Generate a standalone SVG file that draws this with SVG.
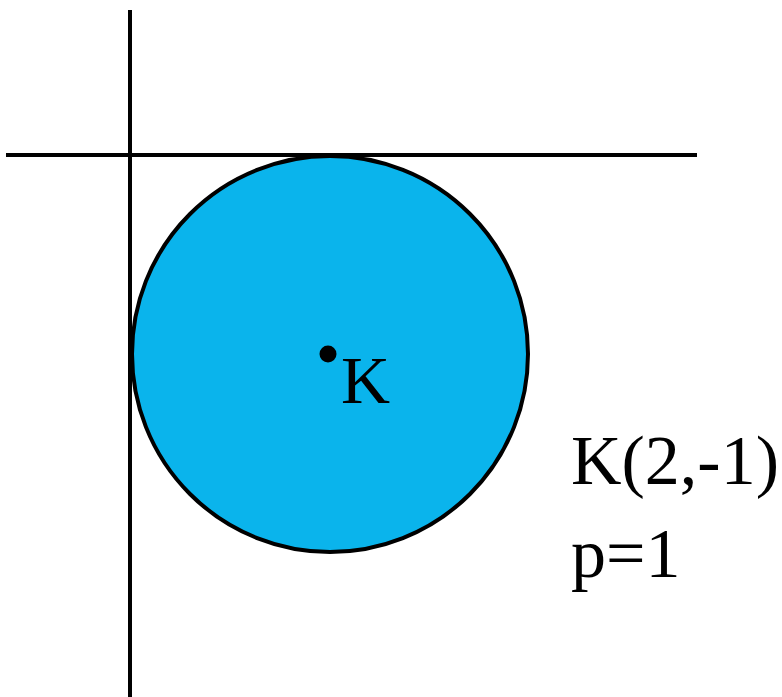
<svg xmlns="http://www.w3.org/2000/svg" width="782" height="697" viewBox="0 0 782 697">
<style>
.ax{stroke:#000;stroke-width:4;fill:none}
.t{font-family:"Liberation Serif","Times New Roman",serif;fill:#000}
</style>
<rect width="782" height="697" fill="#fff"/>
<g id="circle">
<circle cx="330" cy="354" r="198" fill="#0ab4ec" stroke="#000" stroke-width="4"/>
</g>
<g id="axes">
<line class="ax" x1="6" y1="155" x2="697" y2="155"/>
<line class="ax" x1="130" y1="10" x2="130" y2="697"/>
</g>
<g id="center">
<circle cx="328" cy="354" r="8.5" fill="#000"/>
<text class="t" x="341" y="403" font-size="68">K</text>
</g>
<g id="label">
<text class="t" x="571" y="484" font-size="70">K(2,-1)</text>
<text class="t" x="571" y="577" font-size="70">p=1</text>
</g>
</svg>
